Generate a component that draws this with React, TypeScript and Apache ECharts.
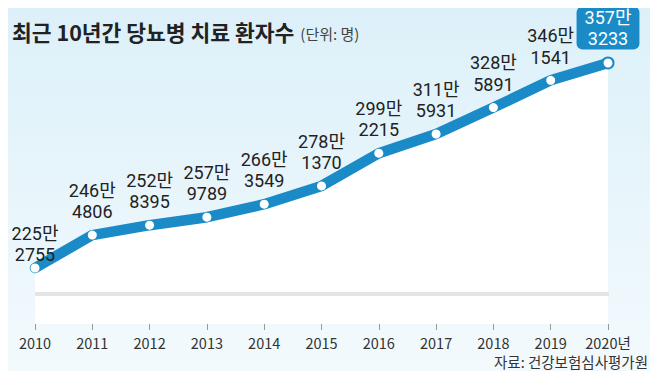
import React, { useEffect, useRef } from "react";
import * as echarts from "echarts";

const years = ["2010", "2011", "2012", "2013", "2014", "2015", "2016", "2017", "2018", "2019", "2020년"];
const patients = [2252755, 2464806, 2528395, 2579789, 2663549, 2781370, 2992215, 3115931, 3285891, 3461541, 3573233];
const titleText = "최근 10년간 당뇨병 치료 환자수";
const unitText = "(단위: 명)";
const sourceText = "자료: 건강보험심사평가원";

const FONT = "'Noto Sans CJK KR', 'Noto Sans', sans-serif";
const LABEL_FONT = "Roboto, 'Noto Sans CJK KR', sans-serif";
const BLUE = "#1a8bc6";

function fmt(v: number) {
  const man = Math.floor(v / 10000);
  const rest = v % 10000;
  return man + "만\n" + rest;
}

export default function App() {
  const ref = useRef<HTMLDivElement>(null);
  useEffect(() => {
    if (!ref.current) return;
    const chart = echarts.init(ref.current, undefined, { renderer: "svg" });
    const last = patients.length - 1;
    chart.setOption({
      animation: false,
      backgroundColor: {
        type: "linear", x: 0, y: 0, x2: 0, y2: 1,
        colorStops: [
          { offset: 0, color: "#dcf0f9" },
          { offset: 1, color: "#f3fafd" },
        ],
      },
      textStyle: { fontFamily: FONT },
      title: [
        {
          left: 7,
          top: 16,
          text: "{a|" + titleText + "} {b|" + unitText + "}",
          textStyle: {
            rich: {
              a: { fontSize: 21.5, fontWeight: "bold", color: "#222", fontFamily: FONT },
              b: { fontSize: 15, fontWeight: "normal", color: "#444", fontFamily: FONT, padding: [3, 0, 0, 2] },
            },
          },
        },
        {
          right: 5,
          top: 349,
          text: sourceText,
          textStyle: { fontSize: 14.5, fontWeight: "normal", color: "#333", fontFamily: FONT },
        },
      ],
      grid: { left: 35, right: 50, top: 43, bottom: 55 },
      xAxis: {
        type: "category",
        data: years,
        boundaryGap: false,
        axisLine: { show: false },
        axisTick: { show: true, length: 6, lineStyle: { color: "#999" } },
        axisLabel: { color: "#333", fontSize: 14.5, margin: 11, fontFamily: FONT, interval: 0 },
        splitLine: { show: false },
      },
      yAxis: {
        type: "value",
        min: 1892000,
        max: 3702000,
        show: false,
        splitLine: { show: false },
      },
      graphic: [
        {
          type: "rect",
          shape: { x: 35, y: 292, width: 574, height: 4 },
          style: { fill: "#e4e4e4" },
          z: 10,
        },
      ],
      series: [
        {
          type: "line",
          data: patients.map((v, i) =>
            i === last
              ? {
                  value: v,
                  itemStyle: { color: "#fff", borderColor: BLUE, borderWidth: 2 },
                  symbolSize: 11,
                  label: {
                    color: "#fff",
                    backgroundColor: BLUE,
                    borderRadius: 6,
                    padding: [0, 8, 0, 8],
                    distance: 7,
                  },
                }
              : i === 0
              ? { value: v, label: { distance: -2 } }
              : v
          ),
          symbol: "circle",
          symbolSize: 9,
          itemStyle: { color: "#fff", borderColor: BLUE, borderWidth: 0 },
          lineStyle: { color: BLUE, width: 10.5, cap: "round", join: "round" },
          areaStyle: { color: "#ffffff", opacity: 1 },
          z: 5,
          label: {
            show: true,
            position: "top",
            distance: 8,
            formatter: (p: any) => fmt(p.value),
            fontSize: 18,
            lineHeight: 21.5,
            color: "#222",
            fontFamily: LABEL_FONT,
            align: "center",
          },
        },
      ],
    });
    return () => chart.dispose();
  }, []);
  return <div ref={ref} style={{ width: 658, height: 379, margin: -8 }} />;
}
